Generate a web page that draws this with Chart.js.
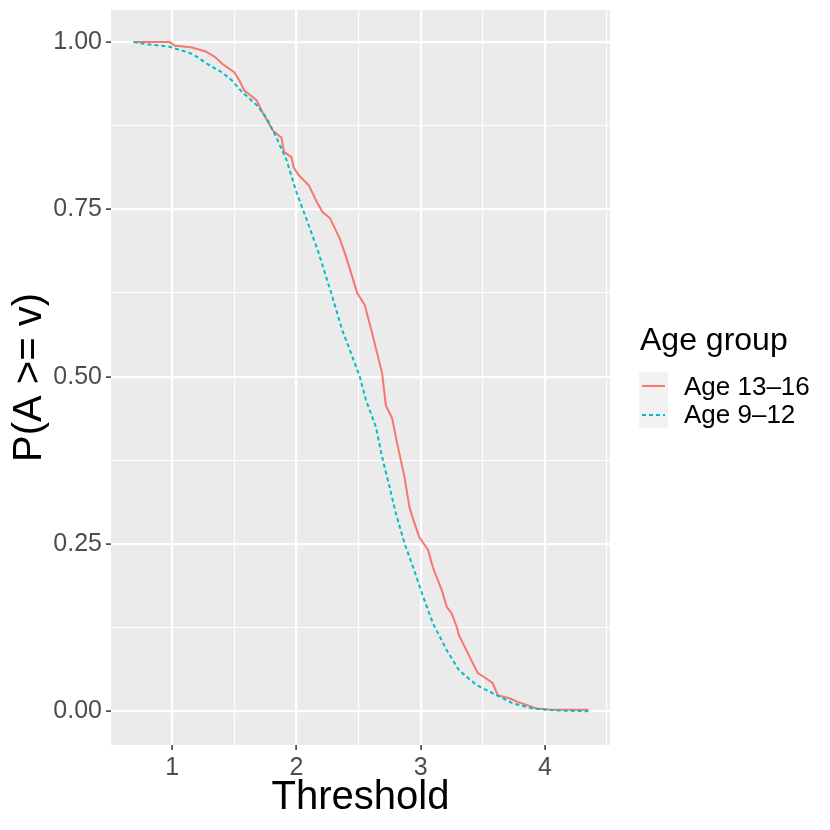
<!DOCTYPE html>
<html lang="en">
<head>
  <meta charset="UTF-8" />
  <title>P(A >= v) by age group</title>
  <script src="https://cdn.jsdelivr.net/npm/chart.js"></script>
  <style>
    body {
      margin: 0;
      background: #fff;
      font-family: "Liberation Sans", Arial, sans-serif;
    }
    .wrap {
      position: relative;
      width: 830px;
      height: 830px;
    }
    .legend-title {
      position: absolute;
      left: 640px;
      top: 323px;
      font-size: 32px;
      line-height: 32px;
      color: #000;
      white-space: nowrap;
    }
    .legend-keys {
      position: absolute;
      left: 639px;
      top: 372px;
      width: 29px;
      height: 56px;
      background: #f2f2f2;
    }
    .key-line {
      position: absolute;
      left: 3px;
      width: 23px;
      height: 2px;
    }
    .legend-label {
      position: absolute;
      left: 684px;
      font-size: 26px;
      line-height: 26px;
      color: #000;
      white-space: nowrap;
    }
  </style>
</head>
<body>
  <div class="wrap">
    <canvas id="cdf" width="830" height="830"></canvas>
    <div class="legend-title">Age group</div>
    <div class="legend-keys">
      <div class="key-line" style="top:13px;background:#F8766D"></div>
      <div class="key-line" style="top:42px;background:repeating-linear-gradient(to right,#00BFC4 0 4px,transparent 4px 7px)"></div>
    </div>
    <div class="legend-label" style="top:373px">Age 13–16</div>
    <div class="legend-label" style="top:401px">Age 9–12</div>
  </div>
  <script>
    // Age 13-16 (red, solid)
    const olderX = [0.69, 0.98, 1.02, 1.16, 1.27, 1.35, 1.40, 1.50, 1.54, 1.58, 1.68, 1.73, 1.81, 1.88, 1.90, 1.96, 1.98, 2.02, 2.10, 2.17, 2.21, 2.27, 2.35, 2.40, 2.49, 2.55, 2.61, 2.69, 2.72, 2.77, 2.81, 2.87, 2.91, 2.95, 2.99, 3.06, 3.10, 3.17, 3.21, 3.25, 3.29, 3.31, 3.46, 3.52, 3.58, 3.62, 3.72, 3.78, 3.86, 3.93, 4.01, 4.06, 4.35];
    const olderP = [1.0, 1.0, 0.995, 0.992, 0.986, 0.977, 0.968, 0.955, 0.943, 0.928, 0.913, 0.894, 0.868, 0.857, 0.836, 0.828, 0.812, 0.801, 0.786, 0.759, 0.746, 0.737, 0.706, 0.679, 0.625, 0.607, 0.565, 0.505, 0.457, 0.438, 0.401, 0.350, 0.305, 0.281, 0.260, 0.241, 0.214, 0.181, 0.156, 0.146, 0.126, 0.113, 0.057, 0.050, 0.042, 0.024, 0.019, 0.014, 0.009, 0.004, 0.003, 0.002, 0.002];

    // Age 9-12 (teal, dashed)
    const youngerX = [0.69, 0.79, 0.98, 1.14, 1.20, 1.27, 1.40, 1.48, 1.56, 1.68, 1.76, 1.84, 1.92, 2.00, 2.08, 2.17, 2.28, 2.37, 2.43, 2.51, 2.56, 2.64, 2.69, 2.75, 2.80, 2.87, 2.94, 3.02, 3.10, 3.21, 3.31, 3.45, 3.61, 3.74, 3.90, 4.10, 4.35];
    const youngerP = [1.0, 0.997, 0.993, 0.984, 0.978, 0.969, 0.955, 0.943, 0.926, 0.906, 0.887, 0.857, 0.824, 0.776, 0.736, 0.690, 0.625, 0.569, 0.540, 0.500, 0.465, 0.425, 0.380, 0.335, 0.296, 0.251, 0.215, 0.171, 0.131, 0.091, 0.061, 0.039, 0.024, 0.012, 0.004, 0.001, 0.0];

    const xTicks = [0.5, 1, 1.5, 2, 2.5, 3, 3.5, 4, 4.5];
    const yTicks = [0, 0.125, 0.25, 0.375, 0.5, 0.625, 0.75, 0.875, 1];

    const toPoints = (xs, ys) => xs.map((x, i) => ({ x: x, y: ys[i] }));
    const isMajorX = v => Math.abs(v - Math.round(v)) < 1e-6;
    const isMajorY = v => Math.abs(v * 4 - Math.round(v * 4)) < 1e-6;

    const panelBg = {
      id: "panelBg",
      beforeDraw(chart) {
        const a = chart.chartArea;
        const c = chart.ctx;
        c.save();
        c.fillStyle = "#ebebeb";
        c.fillRect(a.left, a.top, a.right - a.left, a.bottom - a.top);
        c.restore();
      }
    };

    const font = "'Liberation Sans', Arial, sans-serif";

    new Chart(document.getElementById("cdf"), {
      type: "line",
      data: {
        datasets: [
          {
            label: "Age 9–12",
            data: toPoints(youngerX, youngerP),
            borderColor: "#00BFC4",
            borderWidth: 2,
            borderDash: [4, 3],
            pointRadius: 0,
            tension: 0,
            order: 0
          },
          {
            label: "Age 13–16",
            data: toPoints(olderX, olderP),
            borderColor: "#F8766D",
            borderWidth: 2,
            pointRadius: 0,
            tension: 0,
            order: 1
          }
        ]
      },
      options: {
        responsive: false,
        animation: false,
        layout: { padding: { top: 10, right: 220, left: 0, bottom: 0 } },
        plugins: {
          legend: { display: false },
          tooltip: { enabled: false }
        },
        scales: {
          x: {
            type: "linear",
            min: 0.508,
            max: 4.524,
            afterBuildTicks: s => { s.ticks = xTicks.map(v => ({ value: v })); },
            afterFit: s => { s.height = 85; s.paddingLeft = 0; s.paddingRight = 0; },
            border: { display: false },
            grid: {
              color: "#fff",
              lineWidth: c => isMajorX(c.tick.value) ? 2.2 : 1.1,
              tickColor: c => isMajorX(c.tick.value) ? "#333" : "rgba(0,0,0,0)",
              tickWidth: 1.5,
              tickLength: 5
            },
            ticks: {
              autoSkip: false,
              maxRotation: 0,
              padding: 3,
              color: "#4d4d4d",
              font: { family: font, size: 25 },
              callback: v => isMajorX(v) ? String(Math.round(v)) : ""
            },
            title: {
              display: true,
              text: "Threshold",
              color: "#000",
              font: { family: font, size: 40 },
              padding: { top: 0, bottom: 8 }
            }
          },
          y: {
            type: "linear",
            min: -0.0505,
            max: 1.048,
            afterBuildTicks: s => { s.ticks = yTicks.map(v => ({ value: v })); },
            afterFit: s => { s.width = 111; s.paddingTop = 0; s.paddingBottom = 0; },
            border: { display: false },
            grid: {
              color: "#fff",
              lineWidth: c => isMajorY(c.tick.value) ? 2.2 : 1.1,
              tickColor: c => isMajorY(c.tick.value) ? "#333" : "rgba(0,0,0,0)",
              tickWidth: 1.5,
              tickLength: 5
            },
            ticks: {
              autoSkip: false,
              padding: 4,
              color: "#4d4d4d",
              font: { family: font, size: 25 },
              callback: v => isMajorY(v) ? v.toFixed(2) : ""
            },
            title: {
              display: true,
              text: "P(A >= v)",
              color: "#000",
              font: { family: font, size: 40 },
              padding: { top: 6, bottom: 0 }
            }
          }
        }
      },
      plugins: [panelBg]
    });
  </script>
</body>
</html>
